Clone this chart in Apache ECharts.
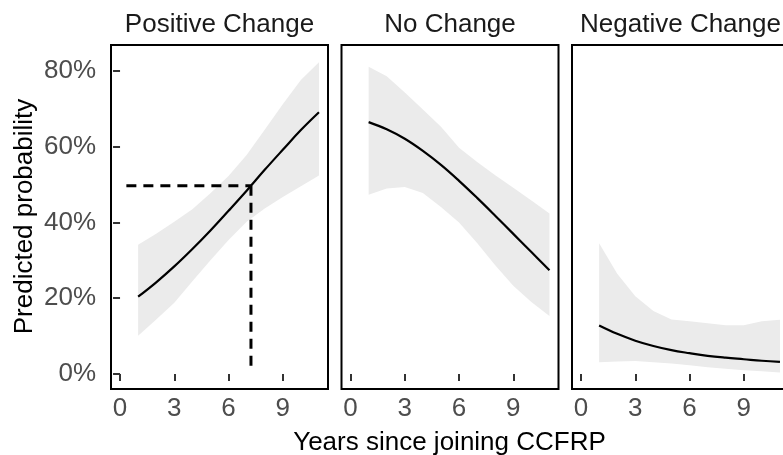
<!DOCTYPE html>
<html>
<head>
<meta charset="utf-8">
<script src="https://cdn.jsdelivr.net/npm/echarts@6/dist/echarts.min.js"></script>
<style>
html,body{margin:0;padding:0;background:#fff;}
#chart{width:783px;height:455px;}
</style>
</head>
<body>
<div id="chart"></div>
<script>
// ---- data ----
const years = [1, 2, 3, 4, 5, 6, 7, 8, 9, 10, 11];
const panelTitles = ['Positive Change', 'No Change', 'Negative Change'];
const xTicks = [0, 3, 6, 9];
const yTicks = [0, 20, 40, 60, 80];

const posFit   = [20.4, 24.2, 28.4, 33.0, 37.9, 43.1, 48.4, 53.9, 59.2, 64.4, 69.1];
const posUpper = [34.1, 37.0, 40.2, 43.5, 47.7, 52.3, 57.8, 64.5, 71.2, 77.6, 82.3];
const posLower = [10.1, 14.4, 18.8, 24.5, 30.0, 35.4, 40.2, 43.7, 46.7, 49.6, 52.4];

const noFit   = [66.5, 64.6, 62.1, 58.9, 55.2, 51.0, 46.5, 41.8, 37.0, 32.2, 27.4];
const noUpper = [81.1, 78.6, 74.3, 69.8, 65.3, 59.7, 56.0, 52.5, 49.2, 45.8, 42.4];
const noLower = [47.3, 49.0, 49.4, 47.8, 44.1, 40.0, 34.6, 28.7, 23.3, 19.0, 15.3];

const negFit   = [12.8, 10.6, 8.8, 7.4, 6.3, 5.5, 4.8, 4.3, 3.9, 3.5, 3.2];
const negUpper = [34.5, 26.5, 20.5, 16.6, 14.4, 13.9, 13.4, 12.9, 12.9, 13.9, 14.3];
const negLower = [3.1, 3.3, 3.4, 3.1, 2.8, 2.3, 1.8, 1.4, 1.0, 0.7, 0.4];

// dashed guide in the first panel (years, percent)
const guideX = [0.35, 7.24];
const guideY = [49.7, 2.2];

// ---- chart ----
const FONT = '"Liberation Sans", Arial, Helvetica, sans-serif';
const panels = [
  { fit: posFit, upper: posUpper, lower: posLower },
  { fit: noFit, upper: noUpper, lower: noLower },
  { fit: negFit, upper: negUpper, lower: negLower }
];
const gridLefts = [111, 341.5, 572];
const PW = 217, PT = 45, PH = 344;

const grids = [], xAxes = [], yAxes = [], series = [], graphics = [];
panels.forEach((p, i) => {
  grids.push({
    left: gridLefts[i], top: PT, width: PW, height: PH,
    show: true, borderColor: '#000', borderWidth: 2, backgroundColor: '#fff',
    containLabel: false, outerBoundsMode: 'none'
  });
  xAxes.push({
    type: 'value', gridIndex: i, min: -0.5, max: 11.5,
    splitLine: { show: false },
    axisLine: { show: false },
    axisTick: { show: true, length: 7, customValues: xTicks, lineStyle: { color: '#333', width: 2 } },
    axisLabel: { show: true, customValues: xTicks, margin: 7, color: '#4D4D4D', fontSize: 26, fontFamily: FONT }
  });
  yAxes.push({
    type: 'value', gridIndex: i, min: -3.96, max: 86.86,
    splitLine: { show: false },
    axisLine: { show: false },
    axisTick: { show: i === 0, length: 7, customValues: yTicks, lineStyle: { color: '#333', width: 2 } },
    axisLabel: { show: i === 0, customValues: yTicks, margin: 15, color: '#4D4D4D', fontSize: 26, fontFamily: FONT,
      formatter: v => v + '%' }
  });
  // ribbon
  series.push({
    type: 'custom', xAxisIndex: i, yAxisIndex: i, coordinateSystem: 'cartesian2d',
    data: [[years[0], p.lower[0]]], silent: true, z: 1,
    renderItem: (params, api) => {
      const pts = [];
      years.forEach((x, k) => pts.push(api.coord([x, p.upper[k]])));
      for (let k = years.length - 1; k >= 0; k--) pts.push(api.coord([years[k], p.lower[k]]));
      return { type: 'polygon', shape: { points: pts }, style: { fill: '#EBEBEB', stroke: null } };
    }
  });
  // fitted line
  series.push({
    type: 'line', xAxisIndex: i, yAxisIndex: i, z: 3,
    data: years.map((x, k) => [x, p.fit[k]]),
    smooth: 0.4, showSymbol: false, symbol: 'none', silent: true,
    lineStyle: { color: '#000', width: 2.2 }
  });
  graphics.push({
    type: 'text', x: gridLefts[i] + PW / 2, y: 24.5, silent: true,
    style: { text: panelTitles[i], font: '26px ' + FONT, fill: '#1A1A1A',
      textAlign: 'center', textVerticalAlign: 'middle', align: 'center', verticalAlign: 'middle' }
  });
});

// dashed guides
series.push({
  type: 'line', xAxisIndex: 0, yAxisIndex: 0, z: 4, silent: true,
  data: [[guideX[0], guideY[0]], [guideX[1], guideY[0]]],
  showSymbol: false, symbol: 'none',
  lineStyle: { color: '#000', width: 3, type: [10, 7] }
});
series.push({
  type: 'line', xAxisIndex: 0, yAxisIndex: 0, z: 4, silent: true,
  data: [[guideX[1], guideY[0]], [guideX[1], guideY[1]]],
  showSymbol: false, symbol: 'none',
  lineStyle: { color: '#000', width: 3, type: [10, 7] }
});

graphics.push({
  type: 'text', x: 449.5, y: 443, silent: true,
  style: { text: 'Years since joining CCFRP', font: '26px ' + FONT, fill: '#000',
    textAlign: 'center', textVerticalAlign: 'middle', align: 'center', verticalAlign: 'middle' }
});
graphics.push({
  type: 'text', x: 24.5, y: 216.5, rotation: Math.PI / 2, silent: true,
  style: { text: 'Predicted probability', font: '26px ' + FONT, fill: '#000',
    textAlign: 'center', textVerticalAlign: 'middle', align: 'center', verticalAlign: 'middle' }
});

const chart = echarts.init(document.getElementById('chart'), null, { renderer: 'canvas' });
chart.setOption({
  animation: false,
  backgroundColor: '#fff',
  grid: grids, xAxis: xAxes, yAxis: yAxes, series: series, graphic: graphics
});
</script>
</body>
</html>
